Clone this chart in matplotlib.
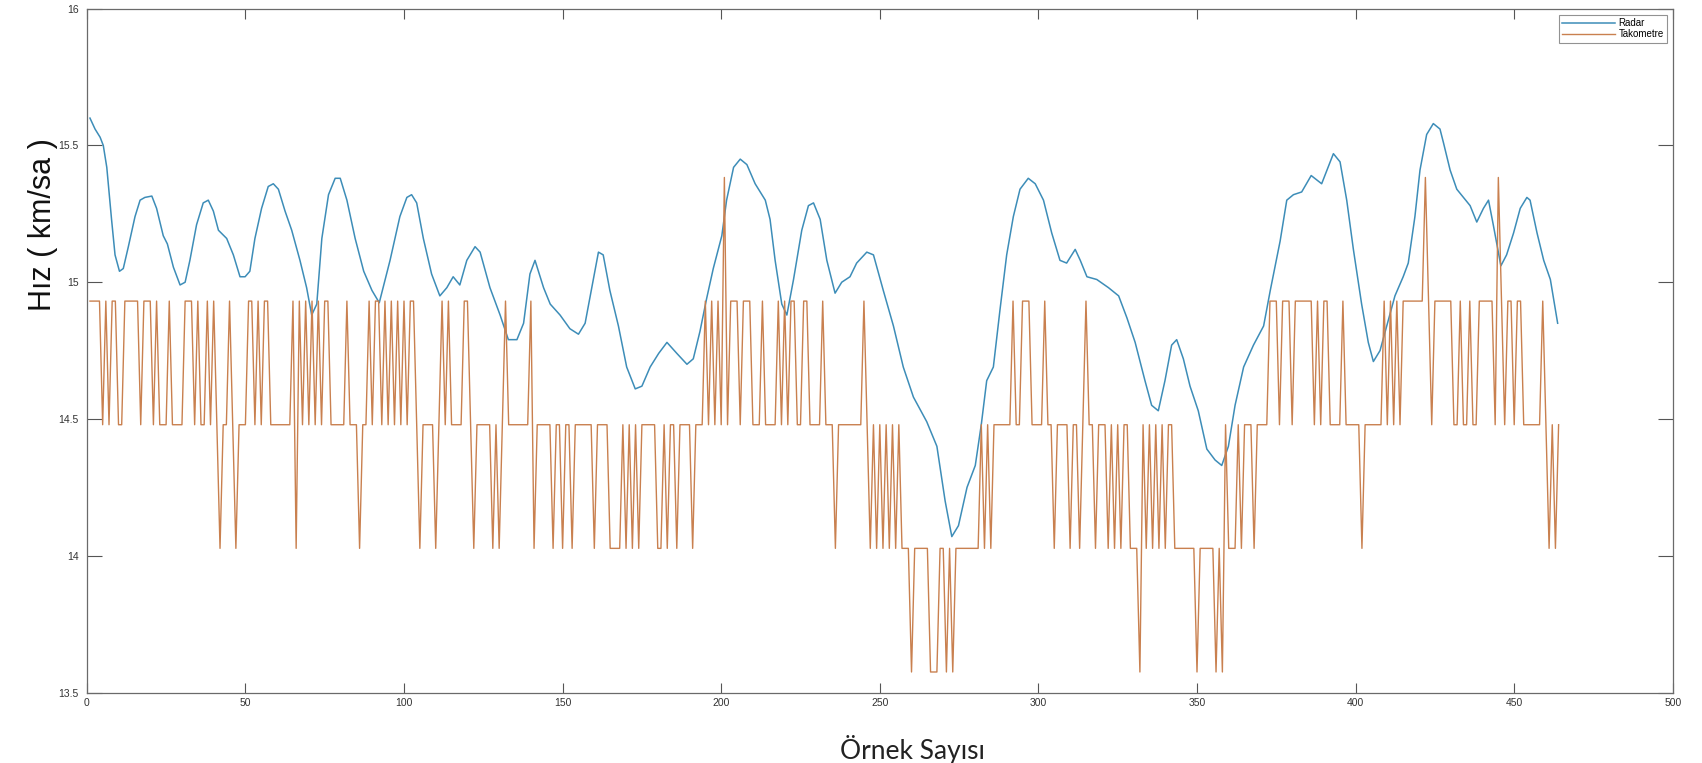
import numpy as np
import matplotlib
matplotlib.use("Agg")
import matplotlib.pyplot as plt

# Takometre: quantised speed levels (km/sa) and per-sample level codes
tacho_levels = [13.575, 14.027, 14.479, 14.931, 15.383]
tacho_codes = (
    "3333232332" "2333332333" "2322232222" "3332322323" "2122321222"
    "3323233222" "2222313232" "3232332222" "2322212232" "3323232323"
    "2332122221" "2323222233" "2122222121" "2322222223" "1222221221"
    "2212222221" "2222111121" "2121222221" "1212212222" "1222323232"
    "4233323332" "2232222323" "2332233222" "2322212222" "2222321212"
    "1212121110" "1111100011" "0101111111" "1212122222" "2322333222"
    "2322122221" "2212322122" "2121212211" "1021212121" "2211111110"
    "1111101021" "1121222122" "2233323332" "3333332323" "3222232222"
    "2122222232" "3232333333" "3432333333" "2232232233" "3332432332"
    "3322222232" "1212"
)

# Radar: speed readings (sample number, km/sa)
radar_x = [1.0, 2.6, 4.2, 5.2, 6.3, 7.8, 8.9, 10.3, 11.5, 13.1, 15.2, 16.8, 18.3, 20.5,
           22.0, 24.1, 25.4, 27.3, 29.4, 31.0, 32.5, 34.6, 36.7, 38.3, 39.9, 41.5, 44.1,
           46.2, 48.3, 49.9, 51.4, 53.0, 55.1, 57.2, 58.8, 60.4, 62.5, 64.6, 67.2, 69.3,
           70.9, 72.5, 74.1, 76.2, 78.3, 79.9, 82.0, 84.6, 87.3, 89.9, 92.2, 95.6, 98.7,
           100.9, 102.4, 104.0, 106.1, 108.7, 111.3, 113.5, 115.5, 117.6, 119.8, 122.4,
           124.0, 127.1, 130.3, 132.9, 135.6, 137.7, 139.7, 141.3, 144.0, 146.1, 149.2,
           152.3, 155.0, 157.1, 159.2, 161.3, 162.8, 164.9, 167.6, 170.2, 172.9, 175.0,
           177.6, 180.3, 182.9, 186.0, 189.2, 191.2, 193.3, 195.4, 197.5, 200.2, 201.7,
           203.9, 206.0, 208.1, 210.7, 213.9, 215.4, 217.0, 219.1, 220.7, 222.8, 225.4,
           227.5, 229.1, 231.2, 233.3, 235.9, 238.0, 240.6, 242.7, 245.9, 248.0, 251.1,
           254.3, 257.4, 260.6, 264.8, 268.0, 270.6, 272.7, 274.8, 277.5, 280.1, 282.0,
           283.7, 285.8, 287.9, 290.0, 292.1, 294.2, 296.8, 299.0, 301.6, 304.2, 306.8,
           308.9, 311.6, 313.2, 315.3, 318.4, 322.1, 325.3, 327.9, 330.5, 333.6, 335.7,
           337.8, 339.9, 342.0, 343.6, 345.7, 347.8, 350.4, 353.1, 355.7, 357.8, 359.9,
           362.0, 364.7, 367.8, 371.0, 373.1, 375.0, 376.2, 378.3, 380.4, 383.0, 386.0,
           389.3, 393.0, 395.1, 397.2, 399.3, 401.9, 404.0, 405.6, 407.7, 409.8, 412.4,
           415.0, 416.6, 418.7, 420.3, 422.4, 424.5, 426.6, 427.7, 429.8, 431.9, 434.0,
           436.1, 438.2, 440.3, 441.9, 443.4, 445.0, 445.8, 447.6, 449.8, 451.9, 454.0,
           455.0, 457.2, 459.3, 461.4, 463.7]
radar_y = [15.60, 15.56, 15.53, 15.50, 15.42, 15.23, 15.10, 15.04, 15.05, 15.13, 15.24,
           15.30, 15.31, 15.315, 15.27, 15.17, 15.14, 15.055, 14.99, 15.00, 15.08, 15.21,
           15.29, 15.30, 15.26, 15.19, 15.16, 15.10, 15.02, 15.02, 15.04, 15.16, 15.27,
           15.35, 15.36, 15.34, 15.26, 15.19, 15.08, 14.98, 14.88, 14.92, 15.16, 15.32,
           15.38, 15.38, 15.30, 15.16, 15.04, 14.97, 14.925, 15.08, 15.24, 15.31, 15.32,
           15.29, 15.16, 15.03, 14.95, 14.98, 15.02, 14.99, 15.08, 15.13, 15.11, 14.98,
           14.88, 14.79, 14.79, 14.85, 15.03, 15.08, 14.98, 14.92, 14.88, 14.83, 14.81,
           14.85, 14.98, 15.11, 15.10, 14.97, 14.84, 14.69, 14.61, 14.62, 14.69, 14.74,
           14.78, 14.74, 14.70, 14.72, 14.82, 14.94, 15.05, 15.17, 15.30, 15.42, 15.45,
           15.43, 15.36, 15.30, 15.23, 15.08, 14.92, 14.88, 15.01, 15.19, 15.28, 15.29,
           15.23, 15.08, 14.96, 15.00, 15.02, 15.07, 15.11, 15.10, 14.97, 14.84, 14.69,
           14.58, 14.49, 14.40, 14.20, 14.07, 14.11, 14.25, 14.33, 14.48, 14.64, 14.69,
           14.90, 15.10, 15.24, 15.34, 15.38, 15.36, 15.30, 15.18, 15.08, 15.07, 15.12,
           15.08, 15.02, 15.01, 14.98, 14.95, 14.87, 14.78, 14.64, 14.55, 14.53, 14.64,
           14.77, 14.79, 14.72, 14.62, 14.53, 14.39, 14.35, 14.33, 14.40, 14.55, 14.69,
           14.77, 14.84, 14.97, 15.08, 15.15, 15.30, 15.32, 15.33, 15.39, 15.36, 15.47,
           15.44, 15.30, 15.12, 14.92, 14.78, 14.71, 14.75, 14.84, 14.95, 15.02, 15.07,
           15.24, 15.41, 15.54, 15.58, 15.56, 15.51, 15.41, 15.34, 15.31, 15.28, 15.22,
           15.27, 15.30, 15.21, 15.11, 15.06, 15.10, 15.18, 15.27, 15.31, 15.30, 15.18,
           15.08, 15.01, 14.85]

x_ticks = [0, 50, 100, 150, 200, 250, 300, 350, 400, 450, 500]
y_ticks = [13.5, 14, 14.5, 15, 15.5, 16]
y_tick_labels = ["13.5", "14", "14.5", "15", "15.5", "16"]

tacho_y = [tacho_levels[int(c)] for c in tacho_codes]
tacho_x = np.arange(1, len(tacho_y) + 1)

W, H, DPI = 1702, 763, 100
fig = plt.figure(figsize=(W / DPI, H / DPI), dpi=DPI, facecolor="white")
ax = fig.add_axes([86.8 / W, 1 - 692.5 / H, (1672.8 - 86.8) / W, (692.5 - 8.7) / H])

radar_color = "#3d8db8"
tacho_color = "#c9804f"
ax.plot(radar_x, radar_y, color=radar_color, lw=1.1, label="Radar")
ax.plot(tacho_x, tacho_y, color=tacho_color, lw=1.0, label="Takometre")

ax.set_xlim(0, 500)
ax.set_ylim(13.5, 16)
ax.set_xticks(x_ticks)
ax.set_yticks(y_ticks)
ax.set_yticklabels(y_tick_labels)

tick_font = dict(family=["Liberation Sans", "DejaVu Sans"], size=7.5)
for lab in ax.get_xticklabels() + ax.get_yticklabels():
    lab.set_fontfamily(tick_font["family"])
    lab.set_fontsize(tick_font["size"])
    lab.set_color("#333333")

ax.tick_params(axis="both", direction="in", top=True, right=True, color="#555555",
               width=0.8)
ax.tick_params(axis="y", length=11, pad=6)
ax.tick_params(axis="x", length=7, pad=4)
for sp in ax.spines.values():
    sp.set_color("#6a6a6a")
    sp.set_linewidth(0.9)

fig.text(43 / W, 1 - 225 / H, "Hız ( km/sa )", rotation=90, ha="center", va="center",
         fontsize=22, family=["Liberation Sans Narrow", "Liberation Sans", "DejaVu Sans"],
         color="#111111")
fig.text(912 / W, 1 - 749 / H, "Örnek Sayısı", ha="center", va="center",
         fontsize=19, family=["Lato", "DejaVu Sans"], color="#222222")

leg = ax.legend(loc="upper right", fontsize=7, frameon=True, fancybox=False,
                handlelength=5.5, borderpad=0.35, labelspacing=0.15,
                handletextpad=0.3, borderaxespad=0.6,
                prop=dict(family=["Liberation Sans", "DejaVu Sans"], size=7))
leg.get_frame().set_edgecolor("#777777")
leg.get_frame().set_linewidth(0.8)

fig.savefig("out.png", dpi=DPI, facecolor="white")
